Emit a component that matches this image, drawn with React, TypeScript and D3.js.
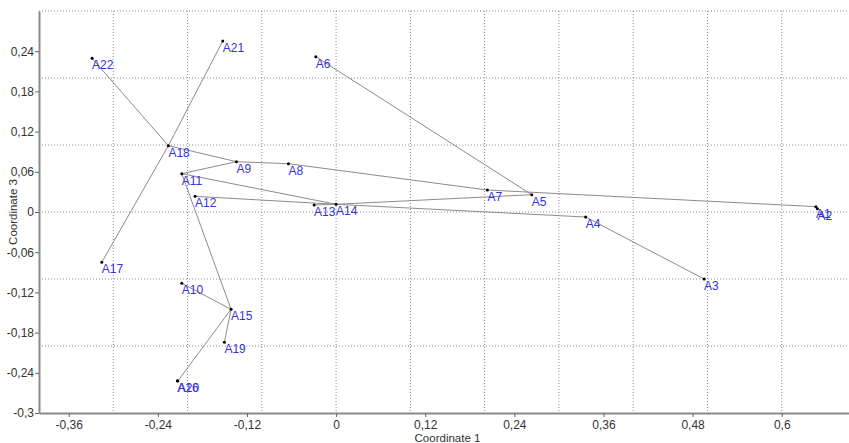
import React, { useEffect, useRef } from "react";
import * as d3 from "d3";

const W = 849;
const H = 443;

// point labels and their coordinates (Coordinate 1, Coordinate 3)
const names = [
  "A1", "A2", "A3", "A4", "A5", "A6", "A7", "A8", "A9", "A10", "A11",
  "A12", "A13", "A14", "A15", "A16", "A17", "A18", "A19", "A20", "A21", "A22",
];
const coord1 = [
  0.646, 0.648, 0.4955, 0.336, 0.2635, -0.0273, 0.2037, -0.0642, -0.1342, -0.2078, -0.2078,
  -0.1898, -0.0296, 0.0, -0.1414, -0.2137, -0.3155, -0.2258, -0.1504, -0.2131, -0.1526, -0.3285,
];
const coord3 = [
  0.008, 0.005, -0.1, -0.0075, 0.0258, 0.2318, 0.0328, 0.0721, 0.0751, -0.1064, 0.0572,
  0.0234, 0.0104, 0.0115, -0.1452, -0.2518, -0.0751, 0.099, -0.1945, -0.2522, 0.2552, 0.2294,
];

// minimum spanning tree edges
const edgeFrom = [
  "A22", "A21", "A18", "A18", "A11", "A9", "A8", "A7", "A6", "A5", "A11",
  "A12", "A13", "A14", "A4", "A11", "A10", "A15", "A15", "A20", "A1",
];
const edgeTo = [
  "A18", "A18", "A17", "A9", "A9", "A8", "A7", "A1", "A5", "A14", "A14",
  "A14", "A14", "A4", "A3", "A15", "A15", "A19", "A20", "A16", "A2",
];

const xTicks = [-0.36, -0.24, -0.12, 0, 0.12, 0.24, 0.36, 0.48, 0.6];
const yTicks = [-0.3, -0.24, -0.18, -0.12, -0.06, 0, 0.06, 0.12, 0.18, 0.24];
const xGrid = [-0.3, -0.2, -0.1, 0, 0.1, 0.2, 0.3, 0.4, 0.5, 0.6];
const yGrid = [-0.2, -0.1, 0, 0.1, 0.2, 0.3];

const fmt = (v: number) => String(+v.toFixed(2)).replace(".", ",");

const App = () => {
  const ref = useRef<SVGGElement>(null);

  const x = d3.scaleLinear().domain([-0.4, 0.7]).range([39, 856]);
  const y = d3.scaleLinear().domain([-0.3, 0.3]).range([413, 11]);

  useEffect(() => {
    const g = d3.select(ref.current);
    g.selectAll("*").remove();

    const pts = new Map(names.map((n, i) => [n, [coord1[i], coord3[i]]]));

    // grid
    g.append("g")
      .selectAll("line")
      .data(xGrid)
      .join("line")
      .attr("x1", d => x(d))
      .attr("x2", d => x(d))
      .attr("y1", y(0.3))
      .attr("y2", y(-0.3))
      .attr("stroke", "#8a8a8a")
      .attr("stroke-dasharray", "1,2");
    g.append("g")
      .selectAll("line")
      .data(yGrid)
      .join("line")
      .attr("x1", x(-0.4))
      .attr("x2", W)
      .attr("y1", d => y(d))
      .attr("y2", d => y(d))
      .attr("stroke", "#8a8a8a")
      .attr("stroke-dasharray", "1,2");

    // axes
    const xAxis = g.append("g")
      .attr("transform", `translate(0,${y(-0.3)})`)
      .call(d3.axisBottom(x).tickValues(xTicks).tickFormat(fmt as any).tickSizeOuter(0).tickSizeInner(4));
    const yAxis = g.append("g")
      .attr("transform", `translate(${x(-0.4)},0)`)
      .call(d3.axisLeft(y).tickValues(yTicks).tickFormat(fmt as any).tickSizeOuter(0).tickSizeInner(4));
    [xAxis, yAxis].forEach(a => {
      a.select(".domain").attr("stroke", "#8a8a8a").attr("stroke-width", 2);
      a.selectAll(".tick line").attr("stroke", "#666");
      a.selectAll(".tick text")
        .attr("fill", "#333")
        .style("font-family", "'Liberation Sans', Arial, sans-serif")
        .style("font-size", "12px");
    });
    xAxis.selectAll(".tick text").attr("dy", "0.9em").attr("y", 5);
    yAxis.selectAll(".tick text").attr("x", -5);

    // edges
    g.append("g")
      .selectAll("line")
      .data(edgeFrom.map((f, i) => [pts.get(f)!, pts.get(edgeTo[i])!]))
      .join("line")
      .attr("x1", d => x(d[0][0]))
      .attr("y1", d => y(d[0][1]))
      .attr("x2", d => x(d[1][0]))
      .attr("y2", d => y(d[1][1]))
      .attr("stroke", "#8c8c8c")
      .attr("stroke-width", 1);

    // points
    g.append("g")
      .selectAll("circle")
      .data(names)
      .join("circle")
      .attr("cx", (d, i) => x(coord1[i]))
      .attr("cy", (d, i) => y(coord3[i]))
      .attr("r", 1.5)
      .attr("fill", "#000");

    // labels
    g.append("g")
      .selectAll("text")
      .data(names)
      .join("text")
      .attr("x", (d, i) => x(coord1[i]))
      .attr("y", (d, i) => y(coord3[i]) + 11)
      .attr("fill", "#3434d8")
      .style("font-family", "'Liberation Sans', Arial, sans-serif")
      .style("font-size", "12px")
      .text(d => d);

    // axis titles
    g.append("text")
      .attr("x", (x(-0.4) + x(0.7)) / 2)
      .attr("y", 442)
      .attr("text-anchor", "middle")
      .attr("fill", "#333")
      .style("font-family", "'Liberation Sans', Arial, sans-serif")
      .style("font-size", "11.5px")
      .text("Coordinate 1");
    g.append("text")
      .attr("transform", `translate(17,${(y(0.3) + y(-0.3)) / 2}) rotate(-90)`)
      .attr("text-anchor", "middle")
      .attr("fill", "#333")
      .style("font-family", "'Liberation Sans', Arial, sans-serif")
      .style("font-size", "11.5px")
      .text("Coordinate 3");
  }, []);

  return (
    <svg
      width={W}
      height={H}
      style={{ position: "absolute", left: 0, top: 0, background: "#fff" }}
    >
      <g ref={ref} />
    </svg>
  );
};

export default App;
